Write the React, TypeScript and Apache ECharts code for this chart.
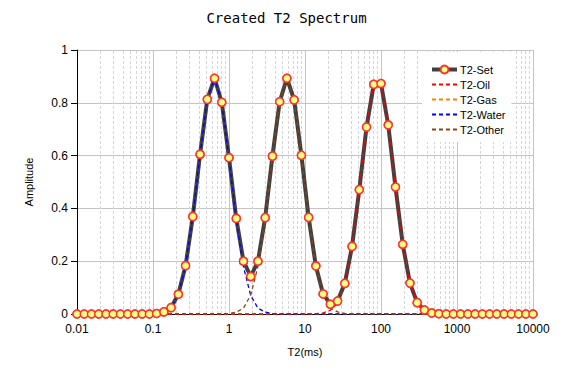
import React, { useEffect, useRef } from "react";
import * as echarts from "echarts";

const t2Values = [
  0.01, 0.012453, 0.015508, 0.019307, 0.024045, 0.029943, 0.037276, 0.046416, 0.057797, 0.071969,
  0.089615, 0.1116, 0.13895, 0.17302, 0.21544, 0.26827, 0.33405, 0.41597, 0.51795, 0.64495,
  0.80309, 1, 1.2453, 1.5505, 1.9307, 2.4041, 2.9936, 3.7276, 4.6416, 5.7797,
  7.1969, 8.9615, 11.16, 13.895, 17.302, 21.544, 26.827, 33.405, 41.597, 51.795,
  64.495, 80.309, 100, 124.53, 155.05, 193.07, 240.41, 299.35, 372.76, 464.16,
  577.97, 719.69, 896.15, 1116, 1389.5, 1730.2, 2154.4, 2682.7, 3340.5, 4159.7,
  5179.5, 6449.5, 8030.9, 10000,
];

const setValues = [
  0, 0, 0, 0, 0, 0, 0, 0, 0, 0,
  0, 0.002, 0.008, 0.024, 0.075, 0.183, 0.369, 0.605, 0.813, 0.893,
  0.802, 0.592, 0.362, 0.2, 0.142, 0.2, 0.365, 0.598, 0.804, 0.893,
  0.811, 0.601, 0.366, 0.182, 0.076, 0.037, 0.049, 0.116, 0.256, 0.471,
  0.708, 0.87, 0.873, 0.716, 0.481, 0.264, 0.117, 0.043, 0.015, 0.004,
  0.001, 0, 0, 0, 0, 0, 0, 0, 0, 0,
  0, 0, 0, 0,
];

const oilValues = [
  0, 0, 0, 0, 0, 0, 0, 0, 0, 0,
  0, 0, 0, 0, 0, 0, 0, 0, 0, 0,
  0, 0, 0, 0, 0, 0, 0, 0, 0, 0,
  0, 0, 0, 0.001, 0.004, 0.014, 0.041, 0.114, 0.256, 0.471,
  0.708, 0.87, 0.873, 0.716, 0.481, 0.264, 0.117, 0.043, 0.015, 0.004,
  0.001, 0, 0, 0, 0, 0, 0, 0, 0, 0,
  0, 0, 0, 0,
];

const gasValues = [
  0, 0, 0, 0, 0, 0, 0, 0, 0, 0,
  0, 0, 0, 0, 0, 0, 0, 0, 0, 0,
  0, 0, 0, 0, 0, 0, 0, 0, 0, 0,
  0, 0, 0, 0, 0, 0, 0, 0, 0, 0,
  0, 0, 0, 0, 0, 0, 0, 0, 0, 0,
  0, 0, 0, 0, 0, 0, 0, 0, 0, 0,
  0, 0, 0, 0,
];

const waterValues = [
  0, 0, 0, 0, 0, 0, 0, 0, 0, 0,
  0, 0.002, 0.008, 0.024, 0.075, 0.183, 0.369, 0.605, 0.813, 0.893,
  0.802, 0.59, 0.355, 0.178, 0.07, 0.022, 0.007, 0.002, 0, 0,
  0, 0, 0, 0, 0, 0, 0, 0, 0, 0,
  0, 0, 0, 0, 0, 0, 0, 0, 0, 0,
  0, 0, 0, 0, 0, 0, 0, 0, 0, 0,
  0, 0, 0, 0,
];

const otherValues = [
  0, 0, 0, 0, 0, 0, 0, 0, 0, 0,
  0, 0, 0, 0, 0, 0, 0, 0, 0, 0,
  0, 0.002, 0.007, 0.022, 0.072, 0.18, 0.358, 0.598, 0.804, 0.893,
  0.811, 0.601, 0.366, 0.181, 0.072, 0.023, 0.008, 0.002, 0, 0,
  0, 0, 0, 0, 0, 0, 0, 0, 0, 0,
  0, 0, 0, 0, 0, 0, 0, 0, 0, 0,
  0, 0, 0, 0,
];

const xTickLabels = ["0.01", "0.1", "1", "10", "100", "1000", "10000"];

const minorGridValues = [
  0.02, 0.03, 0.04, 0.05, 0.06, 0.07, 0.08, 0.09,
  0.2, 0.3, 0.4, 0.5, 0.6, 0.7, 0.8, 0.9,
  2, 3, 4, 5, 6, 7, 8, 9,
  20, 30, 40, 50, 60, 70, 80, 90,
  200, 300, 400, 500, 600, 700, 800, 900,
  2000, 3000, 4000, 5000, 6000, 7000, 8000, 9000,
];

const pair = (vals: number[]) => t2Values.map((t, i) => [t, vals[i]]);

const FONT = "'Liberation Sans', Arial, sans-serif";

export default function App() {
  const ref = useRef<HTMLDivElement>(null);
  useEffect(() => {
    if (!ref.current) return;
    const chart = echarts.init(ref.current, null, { renderer: "svg" });
    const markerStyle = {
      color: "#FFFF80",
      borderColor: "#FF3030",
      borderWidth: 1.5,
    };
    const dashed = (name: string, vals: number[], color: string, z: number) => ({
      name,
      type: "line",
      data: pair(vals),
      z,
      symbol: "none",
      showSymbol: false,
      lineStyle: { color, width: 1.3, type: [4, 3] },
      itemStyle: { color },
      silent: true,
    });
    const dashedLegend = (name: string) => ({
      name,
      lineStyle: { width: 2, type: [4, 3] },
      itemStyle: { opacity: 0 },
    });
    chart.setOption({
      animation: false,
      title: {
        text: "Created T2 Spectrum",
        left: "center",
        top: 11,
        padding: 0,
        textStyle: {
          fontFamily: "'DejaVu Sans Mono', monospace",
          fontSize: 14,
          fontWeight: "normal",
          color: "#000",
        },
      },
      grid: { left: 77, right: 40, top: 50, bottom: 58 },
      legend: {
        orient: "vertical",
        left: 422,
        top: 52,
        padding: [12, 6, 7, 8],
        itemWidth: 25,
        itemHeight: 10,
        itemGap: 4,
        backgroundColor: "#ffffff",
        z: 10,
        selectedMode: false,
        textStyle: { fontFamily: FONT, fontSize: 11, color: "#000", padding: [0, 0, 0, -2] },
        data: [
          { name: "T2-Set", lineStyle: { width: 4 } },
          dashedLegend("T2-Oil"),
          dashedLegend("T2-Gas"),
          dashedLegend("T2-Water"),
          dashedLegend("T2-Other"),
        ],
      },
      xAxis: {
        type: "log",
        logBase: 10,
        min: 0.01,
        max: 10000,
        name: "T2(ms)",
        nameLocation: "middle",
        nameGap: 32,
        nameTextStyle: { fontFamily: FONT, fontSize: 11, color: "#000" },
        axisLine: { show: true, onZero: false, lineStyle: { color: "#000", width: 1 } },
        axisTick: { show: false },
        axisLabel: {
          margin: 9,
          fontFamily: FONT,
          fontSize: 12,
          color: "#000",
          formatter: (_v: number, i: number) => xTickLabels[i] ?? "",
        },
        splitLine: { show: true, lineStyle: { color: "#c4c4c4", width: 1 } },
      },
      yAxis: {
        type: "value",
        min: 0,
        max: 1,
        interval: 0.2,
        name: "Amplitude",
        nameLocation: "middle",
        nameGap: 43,
        nameTextStyle: { fontFamily: FONT, fontSize: 11, color: "#000" },
        axisLine: { show: true, lineStyle: { color: "#000", width: 1 } },
        axisTick: { show: true, length: 6, lineStyle: { color: "#000" } },
        axisLabel: { margin: 9, fontFamily: FONT, fontSize: 12, color: "#000" },
        splitLine: { show: true, lineStyle: { color: "#c4c4c4", width: 1 } },
      },
      series: [
        {
          name: "minor-grid",
          type: "line",
          data: pair(gasValues),
          z: 1,
          symbol: "none",
          silent: true,
          lineStyle: { opacity: 0 },
          markLine: {
            silent: true,
            z: 1,
            symbol: ["none", "none"],
            label: { show: false },
            lineStyle: { color: "#d6d6d6", width: 1, type: [3, 2] },
            data: minorGridValues.map((v) => ({ xAxis: v })),
          },
        },
        {
          name: "T2-Set",
          type: "line",
          data: pair(setValues),
          z: 2,
          symbol: "circle",
          symbolSize: 8,
          showSymbol: true,
          lineStyle: { color: "#404040", width: 4 },
          itemStyle: markerStyle,
          silent: true,
        },
        dashed("T2-Gas", gasValues, "#FF8000", 3),
        dashed("T2-Water", waterValues, "#0000FF", 3),
        dashed("T2-Other", otherValues, "#8B4513", 3),
        dashed("T2-Oil", oilValues, "#FF0000", 3),
        {
          name: "T2-Set-markers",
          type: "line",
          data: pair(setValues),
          z: 4,
          symbol: "circle",
          symbolSize: 8,
          showSymbol: true,
          lineStyle: { opacity: 0, width: 0 },
          itemStyle: markerStyle,
          silent: true,
        },
      ],
    });
    return () => chart.dispose();
  }, []);
  return (
    <div
      ref={ref}
      style={{ position: "fixed", left: 0, top: 0, width: 573, height: 372, background: "#fff" }}
    />
  );
}
